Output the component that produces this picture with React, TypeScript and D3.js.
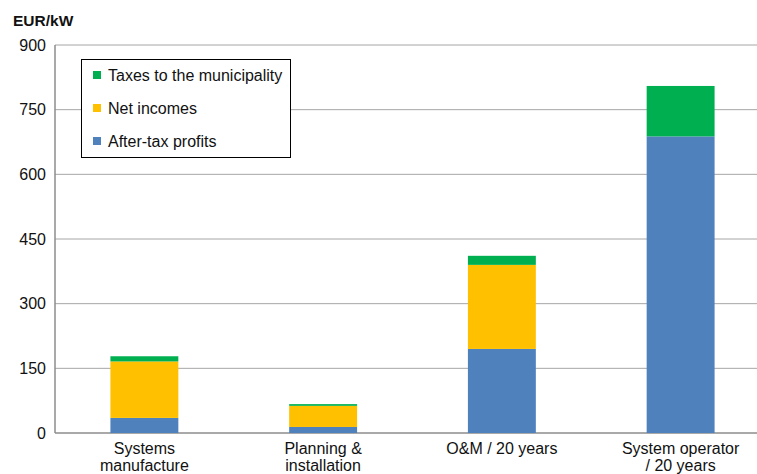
import React from "react";
import * as d3 from "d3";

const categories = [["Systems", "manufacture"], ["Planning &", "installation"], ["O&M / 20 years"], ["System operator", "/ 20 years"]];
const afterTaxProfits = [35, 14, 195, 688];
const netIncomes = [131, 49, 195, 0];
const taxesMunicipality = [12, 4, 21, 117];
const yTicks = [0, 150, 300, 450, 600, 750, 900];
const seriesNames = ["After-tax profits", "Net incomes", "Taxes to the municipality"];
const seriesColors = ["#4F81BD", "#FFC000", "#00B050"];

export default function App() {
  const W = 757, H = 474;
  const left = 55, right = 770, top = 45, bottom = 433;
  const font = "'Liberation Sans', Arial, Helvetica, sans-serif";
  const x = d3.scaleBand<number>().domain(categories.map((_, i) => i)).range([left, right]).paddingInner(0.62).paddingOuter(0.31);
  const y = d3.scaleLinear().domain([0, 900]).range([bottom, top]);
  const table = categories.map((_, i) => ({ i, p: afterTaxProfits[i], n: netIncomes[i], t: taxesMunicipality[i] }));
  const stack = d3.stack<any>().keys(["p", "n", "t"])(table);
  const legendOrder = [2, 1, 0];
  return (
    <svg width={W} height={H} style={{ position: "fixed", left: 0, top: 0, background: "#fff" }} fontFamily={font}>
      <rect width={W} height={H} fill="#fff" />
      {yTicks.map((t) => (
        <g key={t}>
          <line x1={left} x2={W} y1={y(t)} y2={y(t)} stroke={t === 0 ? "#8c8c8c" : "#a6a6a6"} strokeWidth={t === 0 ? 1.5 : 1} />
          <text x={46} y={y(t)} dy="0.35em" textAnchor="end" fontSize={16} fill="#111">{t}</text>
        </g>
      ))}
      <line x1={left} x2={left} y1={top} y2={bottom} stroke="#8c8c8c" strokeWidth={1.5} />
      <text x={13} y={26} fontSize={15.5} fontWeight="bold" fill="#111">EUR/kW</text>
      {stack.map((s, si) => (
        <g key={si} fill={seriesColors[si]}>
          {s.map((d, i) => d[1] - d[0] > 0 ? (
            <rect key={i} x={x(i)} width={x.bandwidth()} y={y(d[1])} height={y(d[0]) - y(d[1])} />
          ) : null)}
        </g>
      ))}
      {categories.map((lines, i) => (
        <text key={i} x={(x(i) as number) + x.bandwidth() / 2} textAnchor="middle" fontSize={16} fill="#111">
          {lines.map((l, j) => (
            <tspan key={j} x={(x(i) as number) + x.bandwidth() / 2} y={454 + j * 17}>{l}</tspan>
          ))}
        </text>
      ))}
      <g>
        <rect x={81.5} y={59.5} width={209} height={98} fill="#fff" stroke="#000" strokeWidth={1} />
        {legendOrder.map((si, k) => (
          <g key={si} transform={`translate(93, ${75 + k * 33})`}>
            <rect x={0} y={-4} width={8} height={8} fill={seriesColors[si]} />
            <text x={15} y={0} dy="0.35em" fontSize={16} fill="#111">{seriesNames[si]}</text>
          </g>
        ))}
      </g>
    </svg>
  );
}
